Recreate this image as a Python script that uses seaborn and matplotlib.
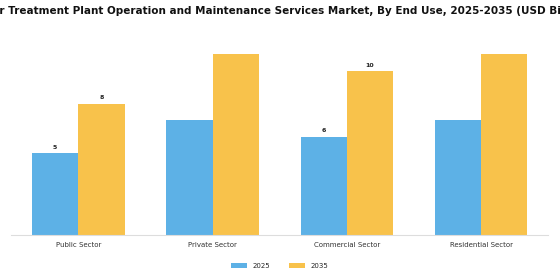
import pandas as pd
import seaborn as sns
import matplotlib.pyplot as plt

# data
segments = ['Public Sector', 'Private Sector', 'Commercial Sector', 'Residential Sector']
years = ['2025', '2035']
values_2025 = [5.0, 7.0, 6.0, 7.0]
values_2035 = [8.0, 11.0, 10.0, 11.0]
shown_labels = {('Public Sector', '2025'): '5', ('Public Sector', '2035'): '8',
                ('Commercial Sector', '2025'): '6', ('Commercial Sector', '2035'): '10'}

df = pd.DataFrame({
    'Segment': segments * 2,
    'Year': ['2025'] * len(segments) + ['2035'] * len(segments),
    'Value': values_2025 + values_2035,
})

sns.set_style('white')
plt.rcParams['font.family'] = ['DejaVu Sans']

fig = plt.figure(figsize=(5.6, 2.8), dpi=100)
ax = fig.add_axes([0.02, 0.161, 0.959, 0.703])

palette = {'2025': '#5DB1E6', '2035': '#F8C24B'}
sns.barplot(data=df, x='Segment', y='Value', hue='Year', hue_order=years,
            order=segments, palette=palette, width=0.69, saturation=1,
            linewidth=0, ax=ax)

# value labels only where the reference has them
for cont, yr in zip(ax.containers, years):
    for bar, seg in zip(cont, segments):
        txt = shown_labels.get((seg, yr))
        if txt:
            ax.text(bar.get_x() + bar.get_width() / 2, bar.get_height() + 0.2, txt,
                    ha='center', va='bottom', fontsize=4.5, fontweight='bold', color='#222222')

ax.set_ylim(0, 12)
ax.set_xlim(-0.5, 3.5)
ax.set_xlabel('')
ax.set_ylabel('')
ax.set_yticks([])
for s in ['top', 'right', 'left']:
    ax.spines[s].set_visible(False)
ax.spines['bottom'].set_color('#DDDDDD')
ax.spines['bottom'].set_linewidth(0.8)
ax.tick_params(axis='x', labelsize=5, colors='#333333', length=2, width=0.5, pad=3)
ax.tick_params(axis='x', color='#AAAAAA')

leg = ax.legend(loc='upper center', bbox_to_anchor=(0.5, -0.11), ncol=2, frameon=False,
                fontsize=5, handlelength=2.3, handleheight=0.7, columnspacing=2.8)

fig.text(0.5, 0.96, 'Water Treatment Plant Operation and Maintenance Services Market, By End Use, 2025-2035 (USD Billion)',
         ha='center', va='center', fontsize=7.45, fontweight='bold', color='#111111')

fig.savefig('out.png', dpi=100)
